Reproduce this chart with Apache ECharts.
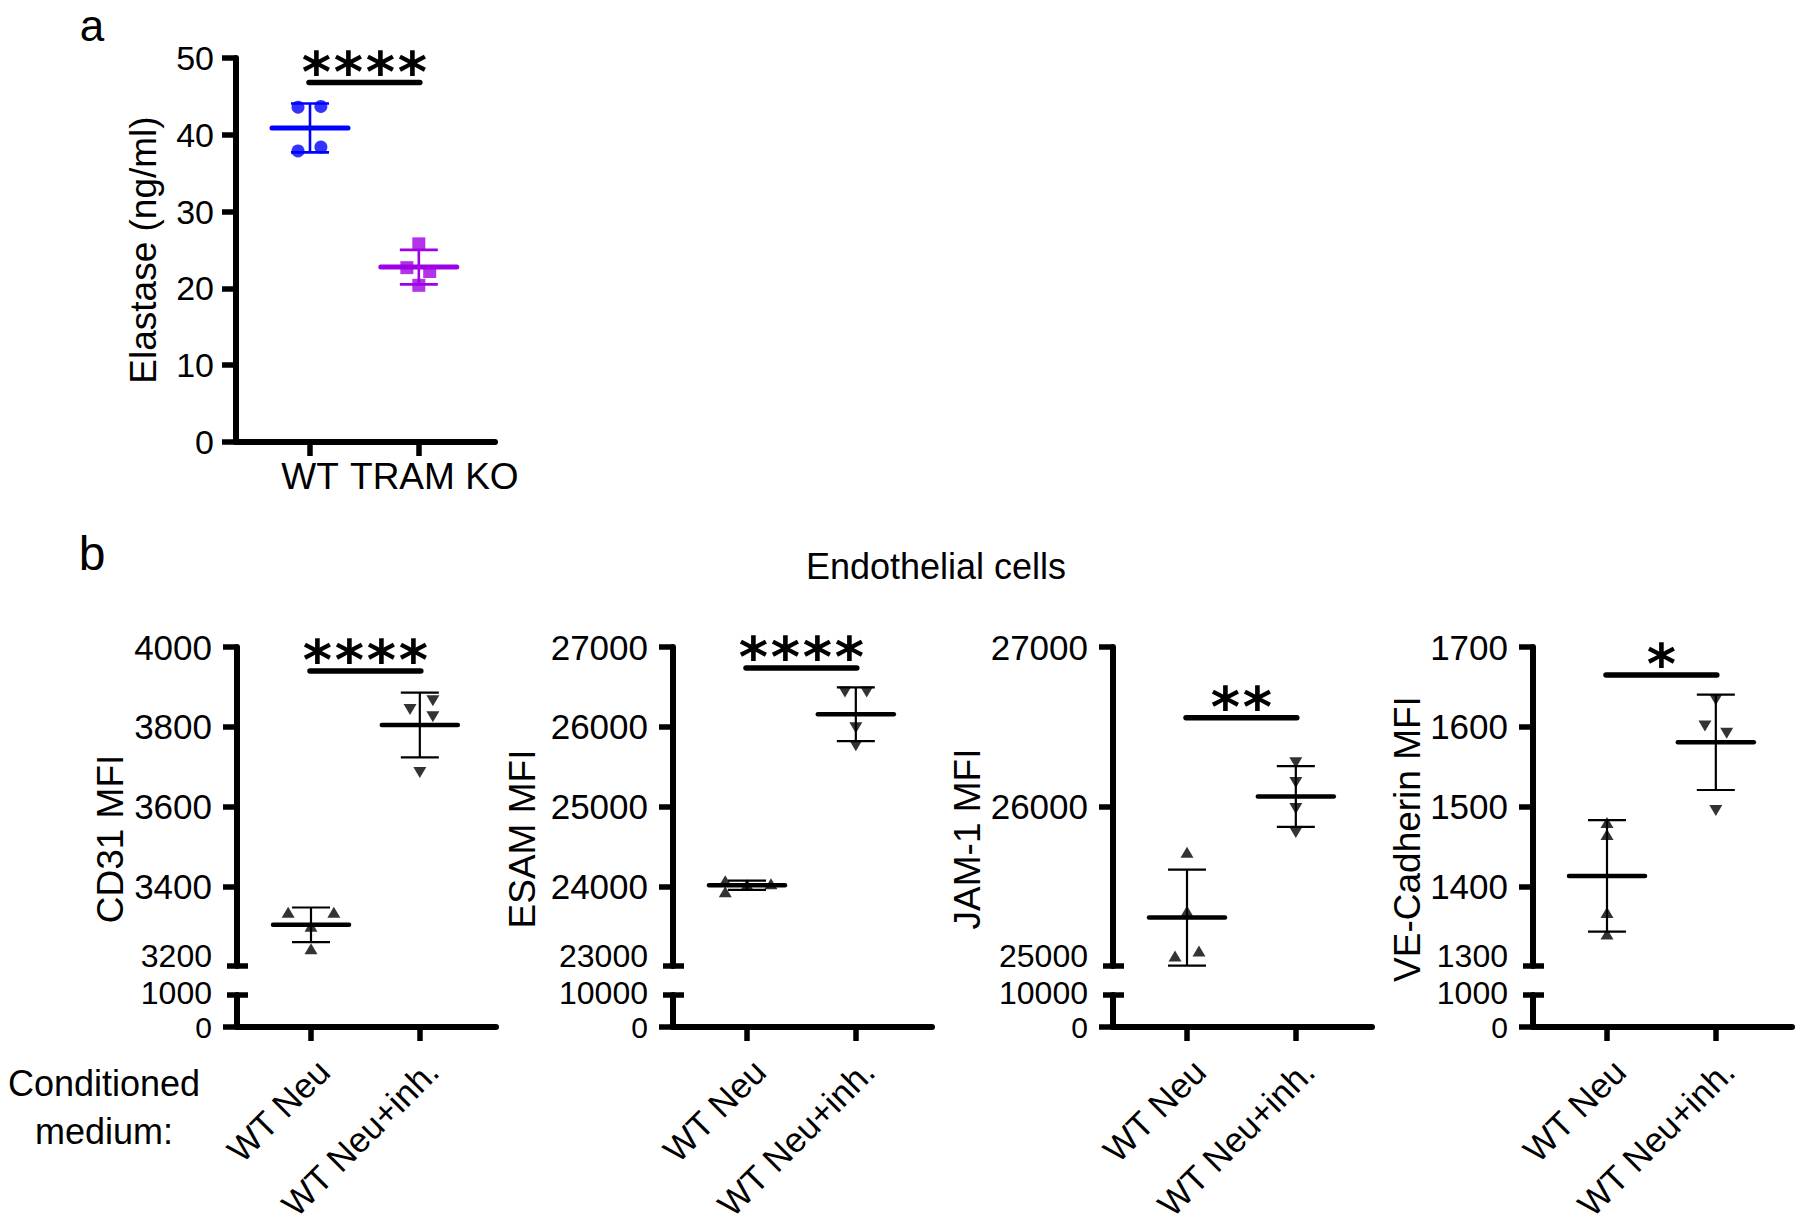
<!DOCTYPE html>
<html><head><meta charset="utf-8">
<script src="https://cdn.jsdelivr.net/npm/echarts@6/dist/echarts.min.js"></script>
<style>html,body{margin:0;padding:0;background:#fff}#c{width:1800px;height:1225px}</style>
</head><body><div id="c"></div><script>
// ---------------- DATA ----------------
// Panel a
const aCategories = ['WT', 'TRAM KO'];
const aTicks = [0, 10, 20, 30, 40, 50];
const elastaseWT = [43.6, 43.7, 37.9, 38.4];
const elastaseWTJitter = [-0.11, 0.1, -0.11, 0.1];
const elastaseKO = [25.8, 22.7, 22.2, 20.4];
const elastaseKOJitter = [0, -0.11, 0.1, 0];
const aSigY = 46.8;
const aSigLabel = '****';

// Panel b
const bCategories = ['WT Neu', 'WT Neu+inh.'];
const bTitles = ['CD31 MFI', 'ESAM MFI', 'JAM-1 MFI', 'VE-Cadherin MFI'];

const cd31Neu = [3335, 3335, 3243, 3300];
const cd31NeuJitter = [-0.21, 0.21, 0, 0];
const cd31Inh = [3843, 3865, 3825, 3685];
const cd31InhJitter = [-0.09, 0.12, 0.12, 0];
const cd31UpperTicks = [3200, 3400, 3600, 3800, 4000];
const cd31LowerTicks = [0, 1000];

const esamNeu = [24070, 23930, 24020, 24030];
const esamNeuJitter = [-0.2, -0.2, 0, 0.22];
const esamInh = [26437, 26437, 25988, 25762];
const esamInhJitter = [-0.1, 0.1, 0, 0];
const esamUpperTicks = [23000, 24000, 25000, 26000, 27000];
const esamLowerTicks = [0, 10000];

const jamNeu = [25713, 25344, 25063, 25094];
const jamNeuJitter = [0, 0, -0.11, 0.11];
const jamInh = [26275, 26150, 25988, 25837];
const jamInhJitter = [0, 0, 0, 0];
const jamUpperTicks = [25000, 26000, 27000];
const jamLowerTicks = [0, 10000];

const veNeu = [1480, 1465, 1367, 1340];
const veNeuJitter = [0, 0, 0, 0];
const veInh = [1634, 1601, 1592, 1495];
const veInhJitter = [0, -0.1, 0.1, 0];
const veUpperTicks = [1300, 1400, 1500, 1600, 1700];
const veLowerTicks = [0, 1000];

const sigLabels = ['****', '****', '**', '*'];
const sigY = [3940, 26738, 26556, 1665];

// ---------------- HELPERS ----------------
const FONT = '"Liberation Sans", Arial, sans-serif';
const X_MIN = 0.32, X_MAX = 2.7;
function mean(a){ return a.reduce((s,v)=>s+v,0)/a.length; }
function sd(a){ const m=mean(a); return Math.sqrt(a.reduce((s,v)=>s+(v-m)*(v-m),0)/(a.length-1)); }
function pts(vals, jit, cat){ return vals.map((v,i)=>[cat + jit[i], v]); }
const plain = v => String(v);

function meanSdRender(color, meanW, whiskW){
  return function(params, api){
    const x = api.value(0), m = api.value(1), s = api.value(2);
    const pm = api.coord([x, m]), pt = api.coord([x, m + s]), pb = api.coord([x, m - s]);
    const ws = {stroke: color, lineWidth: whiskW};
    return {type:'group', children:[
      {type:'line', shape:{x1:pt[0], y1:pt[1], x2:pb[0], y2:pb[1]}, style: ws},
      {type:'line', shape:{x1:pt[0]-19, y1:pt[1], x2:pt[0]+19, y2:pt[1]}, style: ws},
      {type:'line', shape:{x1:pb[0]-19, y1:pb[1], x2:pb[0]+19, y2:pb[1]}, style: ws},
      {type:'line', shape:{x1:pm[0]-38, y1:pm[1], x2:pm[0]+38, y2:pm[1]}, style:{stroke: color, lineWidth: meanW, lineCap:'round'}}
    ]};
  };
}
function sigRender(label){
  return function(params, api){
    const y = api.value(1);
    const p1 = api.coord([1, y]), p2 = api.coord([2, y]);
    const cx = (p1[0] + p2[0]) / 2, pitch = 32, n = label.length;
    const children = [
      {type:'line', shape:{x1:p1[0]-1, y1:p1[1], x2:p2[0]+1, y2:p2[1]}, style:{stroke:'#000', lineWidth:5.5, lineCap:'round'}}
    ];
    for (let k = 0; k < n; k++) {
      children.push({type:'text', x: cx + (k - (n - 1) / 2) * pitch, y: p1[1] - 11,
        style:{text: label[k], fill:'#000', font:'bold 56px "DejaVu Sans"', align:'center', verticalAlign:'middle', lineHeight:30}});
    }
    return {type:'group', children};
  };
}
function breakRender(params, api){
  const p = api.coord([api.value(0), api.value(1)]);
  return {type:'line', shape:{x1:p[0]-10, y1:p[1], x2:p[0]+11, y2:p[1]}, style:{stroke:'#000', lineWidth:5.5}};
}

const axisLine = {show:true, onZero:false, lineStyle:{color:'#000', width:6}};
const tickStyle = {color:'#000', width:5.5};

const grids = [], xAxes = [], yAxes = [], series = [];

// ---------------- PANEL A ----------------
grids.push({left:236, top:58, width:259, height:384});
xAxes.push({type:'value', gridIndex:0, min:X_MIN, max:X_MAX, axisLine,
  splitLine:{show:false},
  axisTick:{show:true, customValues:[1,2], length:14, lineStyle:tickStyle},
  axisLabel:{customValues:[1,2], margin:16, color:'#000', fontSize:37, fontFamily:FONT,
    formatter: v => v === 1 ? '{n|' + aCategories[0] + '}' : '{s|' + aCategories[1] + '}',
    rich:{n:{fontSize:37, fontFamily:FONT, color:'#000'}, s:{fontSize:37, fontFamily:FONT, color:'#000', padding:[0,0,0,31]}}}
});
yAxes.push({type:'value', gridIndex:0, min:aTicks[0], max:aTicks[aTicks.length-1], interval:aTicks[1]-aTicks[0], axisLine,
  splitLine:{show:false},
  axisTick:{show:true, length:14, lineStyle:tickStyle},
  axisLabel:{margin:22, color:'#000', fontSize:34, fontFamily:FONT, formatter: plain, showMinLabel:true, showMaxLabel:true}
});
series.push({type:'scatter', xAxisIndex:0, yAxisIndex:0, symbol:'circle', symbolSize:13,
  itemStyle:{color:'#0000ff'}, data: pts(elastaseWT, elastaseWTJitter, 1), z:3});
series.push({type:'scatter', xAxisIndex:0, yAxisIndex:0, symbol:'rect', symbolSize:13,
  itemStyle:{color:'#a000e6'}, data: pts(elastaseKO, elastaseKOJitter, 2), z:3});
series.push({type:'custom', xAxisIndex:0, yAxisIndex:0, renderItem: meanSdRender('#0000ff', 5, 2.6),
  encode:{x:0, y:1}, data:[[1, mean(elastaseWT), sd(elastaseWT)]], z:4});
series.push({type:'custom', xAxisIndex:0, yAxisIndex:0, renderItem: meanSdRender('#a000e6', 5, 2.6),
  encode:{x:0, y:1}, data:[[2, mean(elastaseKO), sd(elastaseKO)]], z:4});
series.push({type:'custom', xAxisIndex:0, yAxisIndex:0, renderItem: sigRender(aSigLabel),
  encode:{x:0, y:1}, data:[[1, aSigY]], z:5});

// ---------------- PANEL B ----------------
const bPanels = [
  {neu:cd31Neu, neuJ:cd31NeuJitter, inh:cd31Inh, inhJ:cd31InhJitter, up:cd31UpperTicks, low:cd31LowerTicks},
  {neu:esamNeu, neuJ:esamNeuJitter, inh:esamInh, inhJ:esamInhJitter, up:esamUpperTicks, low:esamLowerTicks},
  {neu:jamNeu, neuJ:jamNeuJitter, inh:jamInh, inhJ:jamInhJitter, up:jamUpperTicks, low:jamLowerTicks},
  {neu:veNeu, neuJ:veNeuJitter, inh:veInh, inhJ:veInhJitter, up:veUpperTicks, low:veLowerTicks}
];
const bLeft = [237, 673, 1113, 1533];
const bTitleX = [110, 522, 967, 1407];
const labelRich = {
  n:{fontSize:35, fontFamily:FONT, color:'#000'},
  m:{fontSize:32, fontFamily:FONT, color:'#000', padding:[0,0,20,0]},
  h:{fontSize:32, fontFamily:FONT, color:'#000', padding:[0,0,4,0]},
  z:{fontSize:30, fontFamily:FONT, color:'#000'}
};

bPanels.forEach((p, i) => {
  const gTop = grids.length, gBot = gTop + 1;
  grids.push({left:bLeft[i], top:647, width:259, height:319});
  grids.push({left:bLeft[i], top:995, width:259, height:36});
  xAxes.push({type:'value', gridIndex:gTop, min:X_MIN, max:X_MAX, show:false});
  xAxes.push({type:'value', gridIndex:gBot, min:X_MIN, max:X_MAX, axisLine,
    splitLine:{show:false},
    axisTick:{show:true, customValues:[1,2], length:14, lineStyle:tickStyle},
    axisLabel:{customValues:[1,2], rotate:45, margin:26, verticalAlign:'top', color:'#000', fontSize:35, fontFamily:FONT,
      formatter: v => bCategories[Math.round(v) - 1]}
  });
  yAxes.push({type:'value', gridIndex:gTop, min:p.up[0], max:p.up[p.up.length-1], interval:p.up[1]-p.up[0], axisLine,
    splitLine:{show:false},
    axisTick:{show:true, customValues:p.up.slice(1), length:14, lineStyle:tickStyle},
    axisLabel:{margin:25, color:'#000', fontSize:35, fontFamily:FONT, showMinLabel:true, showMaxLabel:true,
      formatter: v => (v === p.up[0] ? '{m|' : '{n|') + v + '}', rich: labelRich}
  });
  yAxes.push({type:'value', gridIndex:gBot, min:p.low[0], max:p.low[1], interval:p.low[1]-p.low[0], axisLine,
    splitLine:{show:false},
    axisTick:{show:true, customValues:[p.low[0]], length:14, lineStyle:tickStyle},
    axisLabel:{margin:25, color:'#000', fontSize:32, fontFamily:FONT, showMinLabel:true, showMaxLabel:true, hideOverlap:false,
      formatter: v => (v === p.low[0] ? '{z|' : '{h|') + v + '}', rich: labelRich}
  });
  series.push({type:'scatter', xAxisIndex:gTop, yAxisIndex:gTop, symbol:'triangle', symbolSize:[13,11],
    itemStyle:{color:'#000'}, data: pts(p.neu, p.neuJ, 1), z:3});
  series.push({type:'scatter', xAxisIndex:gTop, yAxisIndex:gTop, symbol:'triangle', symbolSize:[13,11], symbolRotate:180,
    itemStyle:{color:'#000'}, data: pts(p.inh, p.inhJ, 2), z:3});
  series.push({type:'custom', xAxisIndex:gTop, yAxisIndex:gTop, renderItem: meanSdRender('#000', 4.5, 2.2),
    encode:{x:0, y:1}, data:[[1, mean(p.neu), sd(p.neu)], [2, mean(p.inh), sd(p.inh)]], z:4});
  series.push({type:'custom', xAxisIndex:gTop, yAxisIndex:gTop, renderItem: sigRender(sigLabels[i]),
    encode:{x:0, y:1}, data:[[1, sigY[i]]], z:5});
  series.push({type:'custom', xAxisIndex:gTop, yAxisIndex:gTop, renderItem: breakRender,
    encode:{x:0, y:1}, data:[[X_MIN, p.up[0]]], z:5});
  series.push({type:'custom', xAxisIndex:gBot, yAxisIndex:gBot, renderItem: breakRender,
    encode:{x:0, y:1}, data:[[X_MIN, p.low[1]]], z:5});
});

// ---------------- TEXT ----------------
const graphics = [
  {type:'text', x:92, y:25, style:{text:'a', font:'44px ' + FONT, fill:'#000', align:'center', verticalAlign:'middle'}},
  {type:'text', x:92, y:553, style:{text:'b', font:'48px ' + FONT, fill:'#000', align:'center', verticalAlign:'middle'}},
  {type:'text', x:143, y:250, rotation:Math.PI/2, style:{text:'Elastase (ng/ml)', font:'37px ' + FONT, fill:'#000', align:'center', verticalAlign:'middle'}},
  {type:'text', x:936, y:566, style:{text:'Endothelial cells', font:'36px ' + FONT, fill:'#000', align:'center', verticalAlign:'middle'}},
  {type:'text', x:104, y:1107, style:{text:'Conditioned\nmedium:', font:'36px ' + FONT, lineHeight:48, fill:'#000', align:'center', verticalAlign:'middle'}}
];
bTitles.forEach((t, i) => graphics.push({type:'text', x:bTitleX[i], y:839, rotation:Math.PI/2,
  style:{text:t, font:'37px ' + FONT, fill:'#000', align:'center', verticalAlign:'middle'}}));

const chart = echarts.init(document.getElementById('c'), null, {renderer:'svg', width:1800, height:1225});
chart.setOption({
  animation:false,
  backgroundColor:'#fff',
  grid: grids, xAxis: xAxes, yAxis: yAxes, series: series, graphic: graphics
});
</script></body></html>
